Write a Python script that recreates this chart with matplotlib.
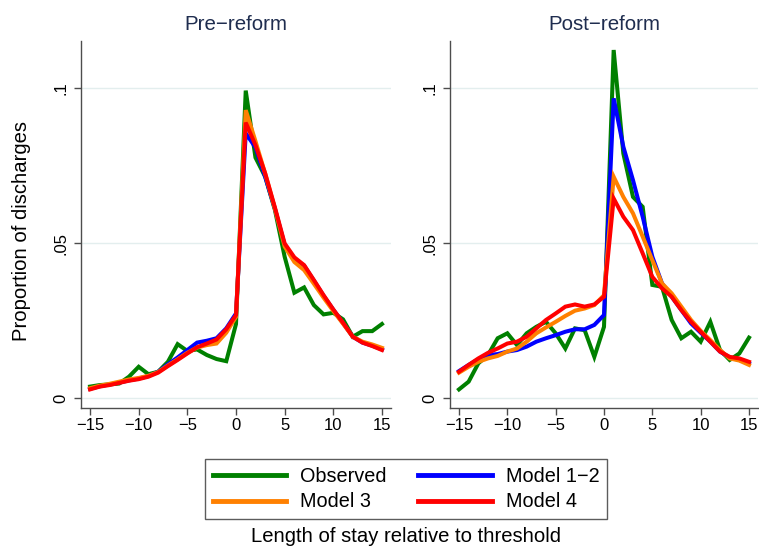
import matplotlib
matplotlib.use("Agg")
import matplotlib.pyplot as plt
import numpy as np

plt.rcParams['font.family'] = ['Liberation Sans', 'DejaVu Sans']

# Length of stay relative to threshold
los = list(range(-15, 16))

# Pre-reform discharge proportions
pre_observed = [0.0038, 0.0043, 0.0045, 0.0048, 0.0070, 0.0102, 0.0078, 0.0086, 0.0118, 0.0175,
                0.0153, 0.0158, 0.0140, 0.0127, 0.0120, 0.0240, 0.0993, 0.0777, 0.0715, 0.0608,
                0.0457, 0.0341, 0.0358, 0.0301, 0.0271, 0.0276, 0.0255, 0.0199, 0.0217, 0.0217, 0.0240]
pre_model12 = [0.0031, 0.0039, 0.0045, 0.0051, 0.0058, 0.0064, 0.0072, 0.0086, 0.0110, 0.0132,
               0.0156, 0.0180, 0.0186, 0.0194, 0.0226, 0.0274, 0.0855, 0.0810, 0.0715, 0.0612,
               0.0495, 0.0450, 0.0428, 0.0380, 0.0331, 0.0286, 0.0243, 0.0199, 0.0180, 0.0170, 0.0158]
pre_model3 = [0.0033, 0.0041, 0.0047, 0.0054, 0.0061, 0.0066, 0.0073, 0.0085, 0.0106, 0.0126,
              0.0147, 0.0164, 0.0172, 0.0177, 0.0212, 0.0263, 0.0930, 0.0830, 0.0725, 0.0612,
              0.0490, 0.0440, 0.0414, 0.0370, 0.0325, 0.0282, 0.0241, 0.0199, 0.0183, 0.0174, 0.0163]
pre_model4 = [0.0029, 0.0038, 0.0043, 0.0050, 0.0057, 0.0062, 0.0070, 0.0083, 0.0104, 0.0124,
              0.0145, 0.0165, 0.0177, 0.0190, 0.0223, 0.0269, 0.0890, 0.0817, 0.0726, 0.0616,
              0.0500, 0.0455, 0.0430, 0.0382, 0.0333, 0.0287, 0.0244, 0.0199, 0.0180, 0.0169, 0.0156]

# Post-reform discharge proportions
post_observed = [0.0029, 0.0054, 0.0113, 0.0140, 0.0194, 0.0210, 0.0172, 0.0210, 0.0231, 0.0247,
                 0.0210, 0.0161, 0.0226, 0.0220, 0.0134, 0.0231, 0.1124, 0.0790, 0.0650, 0.0618,
                 0.0366, 0.0360, 0.0253, 0.0194, 0.0215, 0.0183, 0.0247, 0.0156, 0.0124, 0.0145, 0.0196]
post_model12 = [0.0088, 0.0108, 0.0126, 0.0140, 0.0143, 0.0151, 0.0156, 0.0167, 0.0183, 0.0194,
                0.0204, 0.0215, 0.0223, 0.0223, 0.0237, 0.0269, 0.0968, 0.0812, 0.0704, 0.0586,
                0.0457, 0.0371, 0.0328, 0.0285, 0.0242, 0.0212, 0.0183, 0.0151, 0.0132, 0.0124, 0.0113]
post_model3 = [0.0083, 0.0102, 0.0118, 0.0129, 0.0137, 0.0151, 0.0161, 0.0183, 0.0210, 0.0229,
               0.0247, 0.0266, 0.0283, 0.0290, 0.0301, 0.0333, 0.0715, 0.0650, 0.0597, 0.0522,
               0.0446, 0.0371, 0.0339, 0.0296, 0.0253, 0.0218, 0.0188, 0.0156, 0.0129, 0.0122, 0.0108]
post_model4 = [0.0086, 0.0108, 0.0129, 0.0147, 0.0161, 0.0177, 0.0183, 0.0199, 0.0226, 0.0253,
               0.0274, 0.0296, 0.0303, 0.0296, 0.0303, 0.0328, 0.0645, 0.0586, 0.0543, 0.0468,
               0.0392, 0.0355, 0.0328, 0.0285, 0.0247, 0.0215, 0.0183, 0.0151, 0.0134, 0.0129, 0.0118]

panel_titles = ["Pre\u2212reform", "Post\u2212reform"]
series_labels = ["Observed", "Model 1\u22122", "Model 3", "Model 4"]
series_colors = ["#008000", "#0000ff", "#ff8000", "#ff0000"]

xticks = [-15, -10, -5, 0, 5, 10, 15]
xtick_labels = ["\u221215", "\u221210", "\u22125", "0", "5", "10", "15"]
yticks = [0, 0.05, 0.1]
ytick_labels = ["0", ".05", ".1"]

W, H = 759, 548
fig = plt.figure(figsize=(W / 100, H / 100), dpi=100)
fig.patch.set_facecolor("white")

def px_axes(left, right, top, bottom):
    return fig.add_axes([left / W, 1 - bottom / H, (right - left) / W, (bottom - top) / H])

ax_pre = px_axes(81, 391, 40.7, 408)
ax_post = px_axes(450, 758, 40.7, 408)

panels = [
    (ax_pre, panel_titles[0], [pre_observed, pre_model12, pre_model3, pre_model4]),
    (ax_post, panel_titles[1], [post_observed, post_model12, post_model3, post_model4]),
]

spine_col = "#4d4d4d"
for ax, title, series in panels:
    for y, lab, col in zip(series, series_labels, series_colors):
        ax.plot(los, y, color=col, lw=2.9, label=lab, solid_joinstyle="miter")
    ax.set_xlim(-15.93, 15.93)
    ax.set_ylim(-0.0031, 0.1154)
    ax.set_xticks(xticks)
    ax.set_xticklabels(xtick_labels)
    ax.set_yticks(yticks)
    ax.set_yticklabels(ytick_labels, rotation=90, va="center")
    ax.grid(axis="y", color="#e3eeee", lw=1.0)
    ax.set_axisbelow(True)
    for s in ["top", "right"]:
        ax.spines[s].set_visible(False)
    for s in ["left", "bottom"]:
        ax.spines[s].set_color(spine_col)
        ax.spines[s].set_linewidth(1.0)
    ax.tick_params(axis="both", direction="out", length=5, width=1.0, color=spine_col,
                   labelsize=12, labelcolor="black")
    ax.tick_params(axis="x", pad=2)
    ax.tick_params(axis="y", pad=4)
    ax.set_title(title, fontsize=14.8, color="#1f2d4f", pad=8)

fig.text(22 / W, 1 - 231 / H, "Proportion of discharges", rotation=90,
         ha="center", va="center", fontsize=14.6)
fig.text(406 / W, 1 - 536 / H, "Length of stay relative to threshold",
         ha="center", va="center", fontsize=14.6)

# legend laid out row-wise: Observed, Model 1-2 / Model 3, Model 4
handles, labels = ax_pre.get_legend_handles_labels()
order = [0, 2, 1, 3]
leg = fig.legend([handles[i] for i in order], [labels[i] for i in order],
                 loc="center", bbox_to_anchor=(406 / W, 1 - 489 / H), ncol=2,
                 fontsize=14.3, handlelength=3.7, handletextpad=0.7, columnspacing=1.6,
                 labelspacing=0.35, borderpad=0.4, borderaxespad=0, frameon=True, fancybox=False)
leg.get_frame().set_edgecolor("#333333")
leg.get_frame().set_linewidth(1.0)
for lh in leg.get_lines():
    lh.set_linewidth(3.5)

fig.savefig("out.png", dpi=100, facecolor="white")
